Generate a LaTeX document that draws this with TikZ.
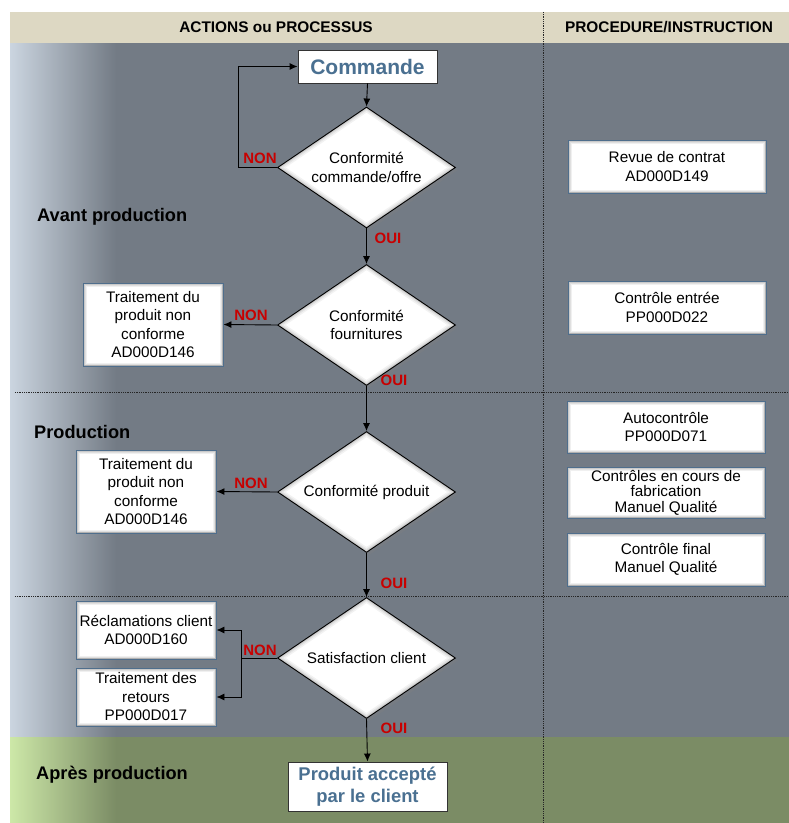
\documentclass[tikz,border=0pt]{standalone}
\usepackage{fontspec}
\setmainfont{Liberation Sans}
\usetikzlibrary{shapes.geometric,arrows.meta,shadows}

\definecolor{headerbg}{RGB}{221,216,195}
\definecolor{graybg}{RGB}{115,123,133}
\definecolor{graylight}{RGB}{203,213,224}
\definecolor{greenbg}{RGB}{123,140,101}
\definecolor{greenlight}{RGB}{205,232,168}
\definecolor{titleblue}{RGB}{74,112,145}
\definecolor{labelred}{RGB}{200,0,0}
\definecolor{boxedge}{RGB}{79,110,140}

\tikzset{
  bodyfont/.style={font=\fontsize{15.3}{18.5}\selectfont},
  procbox/.style={rectangle, fill=white, draw=boxedge, line width=0.9pt,
    align=center, inner sep=0pt, bodyfont,
    path picture={
      \foreach \w/\o in {7/0.06,5/0.07,3/0.09,1.5/0.12}{
        \draw[black,opacity=\o,line width=\w pt]
          (path picture bounding box.south west) rectangle
          (path picture bounding box.north east);}
    }},
  titlebox/.style={rectangle, fill=white, draw=black!80, line width=0.9pt,
    align=center, inner sep=0pt, text=titleblue},
  decision/.style={diamond, aspect=1.47, fill=white, draw=black, line width=0.9pt,
    align=center, inner sep=0pt, bodyfont,
    minimum width=178pt, minimum height=121pt,
    drop shadow={shadow xshift=2.5pt, shadow yshift=-2.5pt, opacity=0.35},
    path picture={
      \foreach \w/\o in {9/0.05,6/0.06,3.5/0.08,1.5/0.12}{
        \draw[black,opacity=\o,line width=\w pt]
          (path picture bounding box.north) -- (path picture bounding box.east) --
          (path picture bounding box.south) -- (path picture bounding box.west) -- cycle;}
    }},
  answer/.style={text=labelred, font=\fontsize{15}{16}\bfseries\selectfont, inner sep=0pt},
  phase/.style={anchor=west, inner sep=0pt, font=\fontsize{18.2}{20}\bfseries\selectfont},
  headtext/.style={inner sep=0pt, font=\fontsize{15.4}{17}\bfseries\selectfont},
  arr/.style={draw=black, line width=0.9pt, -{Latex[length=8pt,width=7pt]}},
  link/.style={draw=black, line width=0.9pt},
  separator/.style={draw=black!85, line width=0.7pt, dash pattern=on 0.9pt off 0.9pt},
}

\begin{document}
\begin{tikzpicture}[x=1pt,y=-1pt]
\useasboundingbox (0,0) rectangle (789,823);

% ---- background bands ----
\fill[headerbg] (10,12) rectangle (789,43);
\fill[graybg] (10,43) rectangle (789,737);
\shade[left color=graylight, right color=graybg] (10,43) rectangle (116,737);
\fill[greenbg] (10,737) rectangle (789,823);
\shade[left color=greenlight, right color=greenbg] (10,737) rectangle (116,823);

% ---- column / phase separators ----
\draw[separator] (543,12) -- (543,823);
\draw[separator] (15,392) -- (789,392);
\draw[separator] (15,596) -- (789,596);

% ---- headers ----
\node[headtext] (hact) at (276,27.5) {ACTIONS ou PROCESSUS};
\node[headtext] (hproc) at (669,27.5) {PROCEDURE/INSTRUCTION};

% ---- phases ----
\node[phase] (pavant) at (37,217) {Avant production};
\node[phase] (pprod) at (34,432) {Production};
\node[phase] (papres) at (36,775) {Après production};

% ---- process flow ----
\node[titlebox, minimum width=139pt, minimum height=33pt,
      font=\fontsize{21}{24}\bfseries\selectfont] (cmd) at (367.5,66.5) {Commande};
\node[decision] (d1) at (366.5,167.5) {Conformité\\commande/offre};
\node[decision] (d2) at (366.5,325) {Conformité\\fournitures};
\node[decision] (d3) at (366.5,492) {Conformité produit};
\node[decision] (d4) at (366.5,658) {Satisfaction client};
\node[titlebox, minimum width=159pt, minimum height=49pt,
      font=\fontsize{18.4}{21.5}\bfseries\selectfont] (fin) at (367.5,786.5)
      {Produit accepté\\par le client};

\node[procbox, minimum width=140pt, minimum height=83pt] (t2) at (153,324.5)
      {Traitement du\\produit non\\conforme\\AD000D146};
\node[procbox, minimum width=140pt, minimum height=83pt] (t3) at (146,491.5)
      {Traitement du\\produit non\\conforme\\AD000D146};
\node[procbox, minimum width=140pt, minimum height=58pt] (rcl) at (146,630)
      {Réclamations client\\AD000D160};
\node[procbox, minimum width=140pt, minimum height=58pt] (tret) at (146,697)
      {Traitement des\\retours\\PP000D017};

% ---- procedures ----
\node[procbox, minimum width=198pt, minimum height=53pt] (rev) at (667,166.5)
      {Revue de contrat\\AD000D149};
\node[procbox, minimum width=198pt, minimum height=53pt] (ent) at (667,307.5)
      {Contrôle entrée\\PP000D022};
\node[procbox, minimum width=198pt, minimum height=52pt] (auto) at (666,427)
      {Autocontrôle\\PP000D071};
\node[procbox, minimum width=198pt, minimum height=51pt,
      font=\fontsize{15.3}{15.5}\selectfont] (cours) at (666,492.5)
      {Contrôles en cours de\\fabrication\\Manuel Qualité};
\node[procbox, minimum width=198pt, minimum height=53pt] (cfin) at (666,559.5)
      {Contrôle final\\Manuel Qualité};

% ---- connectors ----
\coordinate (loop) at (238,66.5);
\coordinate (split) at (241,658);

\draw[arr] (cmd.south) -- (d1.north);
\draw[arr] (d1.west) -- (d1.west -| loop) -- (loop) -- (cmd.west);
\draw[arr] (d1.south) -- (d2.north);
\draw[arr] (d2.west) -- (t2.east);
\draw[arr] (d2.south) -- (d3.north);
\draw[arr] (d3.west) -- (t3.east);
\draw[arr] (d3.south) -- (d4.north);
\draw[link] (d4.west) -- (split);
\draw[arr] (split) |- (rcl.east);
\draw[arr] (split) |- (tret.east);
\draw[arr] (d4.south) -- (fin.north);

% ---- answers ----
\node[answer] (non1) at (260,158) {NON};
\node[answer] (oui1) at (388,238.5) {OUI};
\node[answer] (non2) at (251,315) {NON};
\node[answer] (oui2) at (394,380.5) {OUI};
\node[answer] (non3) at (251,483.5) {NON};
\node[answer] (oui3) at (394,583.5) {OUI};
\node[answer] (non4) at (260,650) {NON};
\node[answer] (oui4) at (394,728.5) {OUI};
\end{tikzpicture}
\end{document}
